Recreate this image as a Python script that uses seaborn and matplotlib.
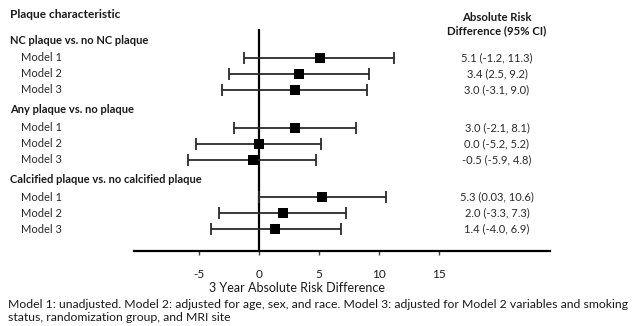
import numpy as np
import pandas as pd
import seaborn as sns
import matplotlib.pyplot as plt
import matplotlib.transforms as mtransforms

groups = ['NC plaque vs. no NC plaque',
          'Any plaque vs. no plaque',
          'Calcified plaque vs. no calcified plaque']
models = ['Model 1', 'Model 2', 'Model 3']

# point estimate and CI as drawn (row order: group by group, model 1..3)
estimate = [5.1, 3.4, 3.0, 3.0, 0.0, -0.5, 5.3, 2.0, 1.4]
ci_low = [-1.2, -2.5, -3.1, -2.1, -5.2, -5.9, 0.03, -3.3, -4.0]
ci_high = [11.3, 9.2, 9.0, 8.1, 5.2, 4.8, 10.6, 7.3, 6.9]
ci_text = ['5.1 (-1.2, 11.3)', '3.4 (2.5, 9.2)', '3.0 (-3.1, 9.0)',
           '3.0 (-2.1, 8.1)', '0.0 (-5.2, 5.2)', '-0.5 (-5.9, 4.8)',
           '5.3 (0.03, 10.6)', '2.0 (-3.3, 7.3)', '1.4 (-4.0, 6.9)']
xticks = [-5, 0, 5, 10, 15]

footnote = ('Model 1: unadjusted. Model 2: adjusted for age, sex, and race. '
            'Model 3: adjusted for Model 2 variables and smoking\n'
            'status, randomization group, and MRI site')

sns.set_theme(style='white')
plt.rcParams['font.family'] = ['Lato', 'DejaVu Sans']

df = pd.DataFrame({'group': np.repeat(groups, 3),
                   'model': models * 3,
                   'est': estimate, 'lo': ci_low, 'hi': ci_high,
                   'txt': ci_text})
g_idx = np.repeat(np.arange(len(groups)), 3)
m_idx = np.tile(np.arange(len(models)), 3)
df['row'] = g_idx * 4.35 + m_idx

W, H = 635, 326
fig = plt.figure(figsize=(W / 100, H / 100), dpi=100)
ax = fig.add_axes([134 / W, 1 - 251 / H, (550 - 134) / W, (251 - 29) / H])

ax.errorbar(df['est'], df['row'],
            xerr=[df['est'] - df['lo'], df['hi'] - df['est']],
            fmt='none', ecolor='#2a2a2a', elinewidth=1.3, capsize=4,
            capthick=1.3, zorder=2)
sns.scatterplot(data=df, x='est', y='row', marker='s', s=58,
                color='black', linewidth=0, ax=ax, zorder=3)
ax.axvline(0, color='black', lw=1.6, zorder=1)

ax.set_xlim(-10.4, 24.3)
ax.set_ylim(12.06, -1.81)
ax.set_yticks([])
ax.set_xticks(xticks)
ax.set_xticklabels([str(t) for t in xticks], fontsize=8.5, color='#1a1a1a')
ax.tick_params(axis='x', direction='out', length=3, width=1,
               color='#444444', bottom=True, pad=10)
for s in ['top', 'left', 'right']:
    ax.spines[s].set_visible(False)
ax.spines['bottom'].set_linewidth(1.6)
ax.spines['bottom'].set_color('black')
ax.set_xlabel('')
ax.set_ylabel('')

tr = mtransforms.blended_transform_factory(fig.transFigure, ax.transData)
for gi, name in enumerate(groups):
    ax.text(10 / W, gi * 4.35 - 1.1, name, transform=tr, fontsize=8,
            fontweight='bold', va='center', ha='left', color='#1a1a1a')
for _, r in df.iterrows():
    ax.text(21 / W, r['row'], r['model'], transform=tr, fontsize=8,
            va='center', ha='left', color='#2a2a2a')
    ax.text(497 / W, r['row'], r['txt'], transform=tr, fontsize=8,
            va='center', ha='center', color='#2a2a2a')

fig.text(10 / W, 1 - 14 / H, 'Plaque characteristic', fontsize=8.6,
         fontweight='bold', va='center', ha='left', color='#1a1a1a')
fig.text(497 / W, 1 - 24 / H, 'Absolute Risk\nDifference (95% CI)',
         fontsize=8.2, fontweight='bold', va='center', ha='center',
         color='#1a1a1a', linespacing=1.3)
fig.text(297 / W, 1 - 288 / H, '3 Year Absolute Risk Difference',
         fontsize=9, va='center', ha='center', color='#1a1a1a')
fig.text(8 / W, 1 - 311 / H, footnote, fontsize=8.8, va='center',
         ha='left', color='#1a1a1a', linespacing=1.15)

fig.savefig('out.png', dpi=100)
